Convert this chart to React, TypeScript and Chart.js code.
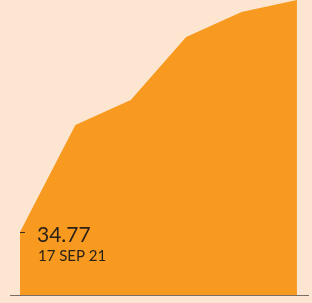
import React, { useEffect, useRef } from "react";
import { Chart, registerables } from "chart.js";

Chart.register(...registerables);

const dates = ["17 SEP 21", "P2", "P3", "P4", "P5", "P6"];
const positions = [0, 1, 2, 3, 4, 5];
const values = [34.77, 93.8, 107.6, 142.4, 156.2, 162.8];
const firstLabelValue = "34.77";
const firstLabelDate = "17 SEP 21";

const BG = "#fde6d1";
const ORANGE = "#f79a1f";

const labelPlugin = {
  id: "firstLabel",
  afterDatasetsDraw(chart: any) {
    const meta = chart.getDatasetMeta(0);
    const pt = meta.data[0];
    if (!pt) return;
    const ctx = chart.ctx;
    ctx.save();
    ctx.strokeStyle = "#3a2a1c";
    ctx.lineWidth = 1;
    ctx.beginPath();
    ctx.moveTo(pt.x, Math.round(pt.y) + 0.5);
    ctx.lineTo(pt.x + 5, Math.round(pt.y) + 0.5);
    ctx.stroke();
    ctx.fillStyle = "#2b2118";
    ctx.textBaseline = "alphabetic";
    ctx.textAlign = "left";
    ctx.font = "21px Lato";
    ctx.fillText(firstLabelValue, pt.x + 17, pt.y + 10);
    ctx.font = "15px Lato";
    ctx.fillText(firstLabelDate, pt.x + 18, pt.y + 29);
    ctx.restore();
  },
};

export default function App() {
  const ref = useRef<HTMLCanvasElement | null>(null);
  useEffect(() => {
    document.body.style.margin = "0";
    const ctx = ref.current!;
    const chart = new Chart(ctx, {
      type: "line",
      data: {
        datasets: [
          {
            label: "value",
            data: positions.map((p, i) => ({ x: p, y: values[i] })),
            fill: "origin",
            backgroundColor: ORANGE,
            borderColor: ORANGE,
            borderWidth: 0,
            pointRadius: 0,
            tension: 0,
          },
        ],
      },
      options: {
        animation: false,
        responsive: false,
        maintainAspectRatio: false,
        layout: { padding: { left: 10, right: 4, top: 0, bottom: 8 } },
        plugins: { legend: { display: false }, tooltip: { enabled: false } },
        scales: {
          x: {
            type: "linear",
            min: -0.18,
            max: 5.2,
            grid: { display: false, drawTicks: false },
            border: { display: true, color: "#7a6d62", width: 1 },
            ticks: { display: false },
          },
          y: {
            min: 0,
            max: 162.8,
            display: false,
          },
        },
      },
      plugins: [labelPlugin],
    });
    return () => chart.destroy();
  }, []);
  return (
    <div style={{ width: 312, height: 303, background: BG, position: "relative" }}>
      <canvas ref={ref} width={312} height={303} style={{ display: "block" }} />
    </div>
  );
}
